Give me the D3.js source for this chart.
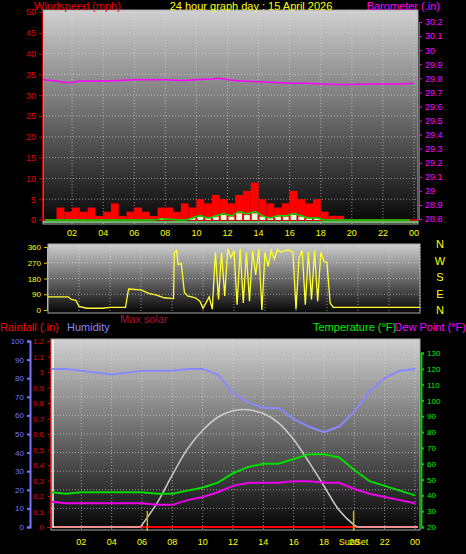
<!DOCTYPE html>
<html><head><meta charset="utf-8">
<script src="https://cdn.jsdelivr.net/npm/d3@7"></script>
<style>body{margin:0;background:#000}svg{display:block;font-family:"Liberation Sans",Arial,sans-serif}</style>
</head><body>
<script>
// Data
const hourTicks = ["02","04","06","08","10","12","14","16","18","20","22","00"];
const baroHours = [0,1,1.5,2,2.5,3,4,5,6,7,8,9,10,11,11.5,12,12.5,13,14,15,16,17,18,19,20,21,22,23,24];
const baroVals  = [29.79,29.78,29.77,29.77,29.78,29.78,29.78,29.785,29.79,29.79,29.79,29.785,29.79,29.795,29.8,29.79,29.785,29.78,29.775,29.77,29.765,29.765,29.76,29.755,29.755,29.76,29.76,29.76,29.765];
const gustHours = d3.range(0, 24, 0.5);
const gustVals  = [0,0,3,2,3,2,3,1,2,4,1,2,3,2,1,3,3,2,4,3,5,4,6,5,4,6,7,9,5,4,3,4,7,5,4,5,2,1,1,0,0,0,0,0,0,0,0,0];
const avgVals   = [0,0,0,0,0,0,0,0,0,0,0,0,0,0,0,0.3,0.2,0,0,0.5,1,0.5,1,1.5,1,2,1.5,2,1,0.5,1,1,1.5,1,0.5,0.5,0,0,0,0,0,0,0,0,0,0,0,0];
const dirHours = [0,1.3,1.5,1.8,2,2.5,3.5,4,5,5.2,6,6.5,7,7.5,8.1,8.15,8.3,8.4,8.6,8.8,9,9.5,9.8,10,10.4,10.6,10.8,11,11.2,11.4,11.6,11.8,12,12.2,12.4,12.6,12.8,13,13.2,13.4,13.6,13.8,14,14.2,14.4,14.6,14.8,15,15.3,15.5,15.8,16,16.2,16.4,16.6,16.8,17,17.2,17.4,17.6,17.8,18,18.2,18.4,24];
const dirVals  = [75,75,60,55,20,10,10,15,15,120,115,95,85,70,65,330,340,260,265,100,80,70,50,10,75,5,330,60,330,80,350,300,340,30,350,40,330,50,340,200,350,0,330,250,340,290,345,330,340,345,330,5,300,340,30,330,60,340,50,330,280,270,40,15,15];
const hrHours = d3.range(0, 25);
const humidity = [85,85,84,83,82,83,84,84,84,85,85,82,72,67,64,64,58,54,51,54,62,73,80,84,85];
const temperature = [42,41,42,42,42,42,42,41,41,43,45,48,54,58,60,60,63,66,66,64,56,49,46,43,40];
const dewPoint = [36,35,35,35,35,35,35,34,34,37,39,42,46,48,48,48,49,49,48,48,44,41,39,37,35];
const solarHours = [5.9,7,8,9,10,11,12,13,14,15,16,17,18,19,20,20.2];
const solarVals  = [0,13,28,42,52,59,62.5,63,61,56,47,35,22,9,1,0];
const sunRise = 6.35, sunSet = 19.95;

const W = 466, H = 554;
const svg = d3.select("body").append("svg").attr("width", W).attr("height", H);
const defs = svg.append("defs");
const grad = defs.append("linearGradient").attr("id","bg").attr("x1",0).attr("x2",0).attr("y1",0).attr("y2",1);
grad.append("stop").attr("offset","0%").attr("stop-color","#d0d0d0");
grad.append("stop").attr("offset","100%").attr("stop-color","#050505");

function panel(x0, y0, x1, y1) {
    svg.append("rect").attr("x", x0).attr("y", y0).attr("width", x1 - x0).attr("height", y1 - y0)
        .attr("fill", "url(#bg)").attr("stroke", "#aaa").attr("stroke-width", 1);
}
function grid(xs, ys, x0, x1, y0, y1) {
    const g = svg.append("g").attr("stroke", "#ddd").attr("stroke-opacity", 0.6).attr("stroke-dasharray", "1,2");
    xs.forEach(x => g.append("line").attr("x1", x).attr("x2", x).attr("y1", y0).attr("y2", y1));
    ys.forEach(y => g.append("line").attr("x1", x0).attr("x2", x1).attr("y1", y).attr("y2", y));
}
function txt(x, y, s, col, size, anchor) {
    svg.append("text").attr("x", x).attr("y", y).attr("fill", col).attr("font-size", size || 9)
        .attr("text-anchor", anchor || "start").text(s);
}
const tickNums = hourTicks.map((t, i) => 2 + 2 * i);

// ---------- Panel 1: wind + barometer ----------
const x1 = d3.scaleLinear().domain([0, 24]).range([41, 414]);
const yWind = d3.scaleLinear().domain([0, 50]).range([220, 12]);
const yBaro = d3.scaleLinear().domain([28.8, 30.2]).range([219, 22]);
panel(43, 10, 418, 224);
grid(tickNums.map(x1), d3.range(5, 51, 5).map(yWind), 43, 418, 10, 224);

txt(34, 10, "Windspeed (mph)", "#e00000", 11);
txt(251, 10, "24 hour graph day : 15 April 2026", "#ffff00", 11, "middle");
txt(440, 10, "Barometer (.in)", "#ff00ff", 11, "end");

const axL = svg.append("g").attr("transform", "translate(42,0)")
    .call(d3.axisLeft(yWind).tickValues(d3.range(0, 51, 5)).tickSize(3));
axL.selectAll("text").attr("fill", "#e00000").attr("font-size", 9);
axL.selectAll("line,path").attr("stroke", "#c00000");
const axR = svg.append("g").attr("transform", "translate(419,0)")
    .call(d3.axisRight(yBaro).tickValues(d3.range(28.8, 30.21, 0.1)).tickFormat(d3.format(".1~f")).tickSize(3));
axR.selectAll("text").attr("fill", "#ff00ff").attr("font-size", 9);
axR.selectAll("line,path").attr("stroke", "#ff00ff");

const bw = x1(0.5) - x1(0);
svg.append("g").selectAll("rect").data(gustHours).join("rect")
    .attr("x", d => Math.max(43, x1(d))).attr("width", bw)
    .attr("y", (d, i) => yWind(gustVals[i])).attr("height", (d, i) => yWind(0) - yWind(gustVals[i]))
    .attr("fill", "#ff0000");
svg.append("line").attr("x1", 43).attr("x2", 418).attr("y1", yWind(0)).attr("y2", yWind(0)).attr("stroke", "#ff0000").attr("stroke-width", 1.5);
svg.append("g").selectAll("rect").data(gustHours).join("rect")
    .attr("x", d => Math.max(43, x1(d)) + 1).attr("width", bw - 2)
    .attr("y", (d, i) => yWind(avgVals[i] * 0.8)).attr("height", (d, i) => yWind(0) - yWind(avgVals[i] * 0.8))
    .attr("fill", "#e8f8e0");
svg.append("path").datum(avgVals)
    .attr("d", d3.line().x((d, i) => Math.max(43, x1(gustHours[i] + 0.25))).y(d => yWind(d)).curve(d3.curveMonotoneX))
    .attr("fill", "none").attr("stroke", "#00dd00").attr("stroke-width", 1.5);
svg.append("line").attr("x1", 43).attr("x2", 418).attr("y1", 222).attr("y2", 222).attr("stroke", "#90ee90").attr("stroke-width", 1.5);
svg.append("path").datum(baroVals)
    .attr("d", d3.line().x((d, i) => Math.max(43, x1(baroHours[i]))).y(d => yBaro(d)))
    .attr("fill", "none").attr("stroke", "#ff00ff").attr("stroke-width", 1.5);
hourTicks.forEach((t, i) => txt(x1(tickNums[i]), 236, t, "#ffff00", 9, "middle"));

// ---------- Panel 2: wind direction ----------
const x2 = d3.scaleLinear().domain([0, 24]).range([48, 420]);
const yDir = d3.scaleLinear().domain([0, 360]).range([310, 247]);
panel(48, 244, 420, 313);
grid(tickNums.map(x2), [90, 180, 270].map(yDir), 48, 420, 244, 313);
const axD = svg.append("g").attr("transform", "translate(47,0)")
    .call(d3.axisLeft(yDir).tickValues([0, 90, 180, 270, 360]).tickSize(3));
axD.selectAll("text").attr("fill", "#ffff00").attr("font-size", 8);
axD.selectAll("line,path").attr("stroke", "#cccc00");
svg.append("path").datum(dirVals)
    .attr("d", d3.line().x((d, i) => x2(dirHours[i])).y(d => yDir(d)))
    .attr("fill", "none").attr("stroke", "#ffff30").attr("stroke-width", 1.3);
["N", "W", "S", "E", "N"].forEach((c, i) => txt(440, 248 + i * 16.5, c, "#ffff00", 11, "middle"));

// ---------- Panel 3 ----------
txt(0, 331, "Rainfall (.in)", "#ff0000", 11);
txt(67, 331, "Humidity", "#8888ff", 11);
txt(120, 323, "Max solar", "#b01030", 11);
txt(313, 331, "Temperature (°F)", "#00ee00", 11);
txt(466, 331, "Dew Point (°F)", "#ff00ff", 11, "end");

const x3 = d3.scaleLinear().domain([0, 24]).range([51, 415]);
const yHum = d3.scaleLinear().domain([0, 100]).range([527, 341]);
const yRain = d3.scaleLinear().domain([0, 1.2]).range([527, 341]);
const yTemp = d3.scaleLinear().domain([20, 130]).range([527, 353]);
panel(51, 339, 420, 530);
grid(tickNums.map(x3), d3.range(10, 101, 10).map(yHum), 51, 420, 339, 530);

const axH = svg.append("g").attr("transform", "translate(30,0)")
    .call(d3.axisLeft(yHum).tickValues(d3.range(0, 101, 10)).tickSize(3));
axH.selectAll("text").attr("fill", "#7777ff").attr("font-size", 8);
axH.selectAll("line,path").attr("stroke", "#7777ff").attr("stroke-width", 2);
const axRn = svg.append("g").attr("transform", "translate(50,0)")
    .call(d3.axisLeft(yRain).tickValues(d3.range(0, 1.21, 0.1)).tickFormat(d3.format(".1~f")).tickSize(3));
axRn.selectAll("text").attr("fill", "#e00000").attr("font-size", 8);
axRn.selectAll("line,path").attr("stroke", "#e00000").attr("stroke-dasharray", "2,1");
const axT = svg.append("g").attr("transform", "translate(421,0)")
    .call(d3.axisRight(yTemp).tickValues(d3.range(20, 131, 10)).tickSize(3));
axT.selectAll("text").attr("fill", "#00ee00").attr("font-size", 8);
axT.selectAll("line,path").attr("stroke", "#00cc00").attr("stroke-width", 2);

svg.append("line").attr("x1", 53).attr("x2", 418).attr("y1", yRain(0)).attr("y2", yRain(0)).attr("stroke", "#f09090").attr("stroke-width", 2);
svg.append("line").attr("x1", x3(5.9)).attr("x2", x3(20.2)).attr("y1", yRain(0)).attr("y2", yRain(0)).attr("stroke", "#ff0000").attr("stroke-width", 2);
svg.append("line").attr("x1", 53).attr("x2", 53).attr("y1", 340).attr("y2", 528).attr("stroke", "#fff").attr("stroke-width", 1.5);

const lineH = (vals, xs, y) => d3.line().x((d, i) => x3(xs[i])).y(d => y(d))(vals);
svg.append("path").attr("d", lineH(humidity, hrHours, yHum)).attr("fill", "none").attr("stroke", "#8888ff").attr("stroke-width", 2);
svg.append("path").attr("d", d3.line().x((d, i) => x3(solarHours[i])).y(d => yHum(d)).curve(d3.curveCatmullRom)(solarVals))
    .attr("fill", "none").attr("stroke", "#cccccc").attr("stroke-width", 1.5);
svg.append("path").attr("d", lineH(temperature, hrHours, yTemp)).attr("fill", "none").attr("stroke", "#00dd00").attr("stroke-width", 2);
svg.append("path").attr("d", lineH(dewPoint, hrHours, yTemp)).attr("fill", "none").attr("stroke", "#ee00ee").attr("stroke-width", 2);
[sunRise, sunSet].forEach(h => svg.append("line").attr("x1", x3(h)).attr("x2", x3(h)).attr("y1", 511).attr("y2", 531)
    .attr("stroke", "#c8b400").attr("stroke-width", 1.5));

hourTicks.forEach((t, i) => txt(x3(tickNums[i]), 545, t, "#ffff00", 9, "middle"));
txt(x3(sunSet), 545, "SunSet", "#ffff00", 9, "middle");
</script>
</body></html>
